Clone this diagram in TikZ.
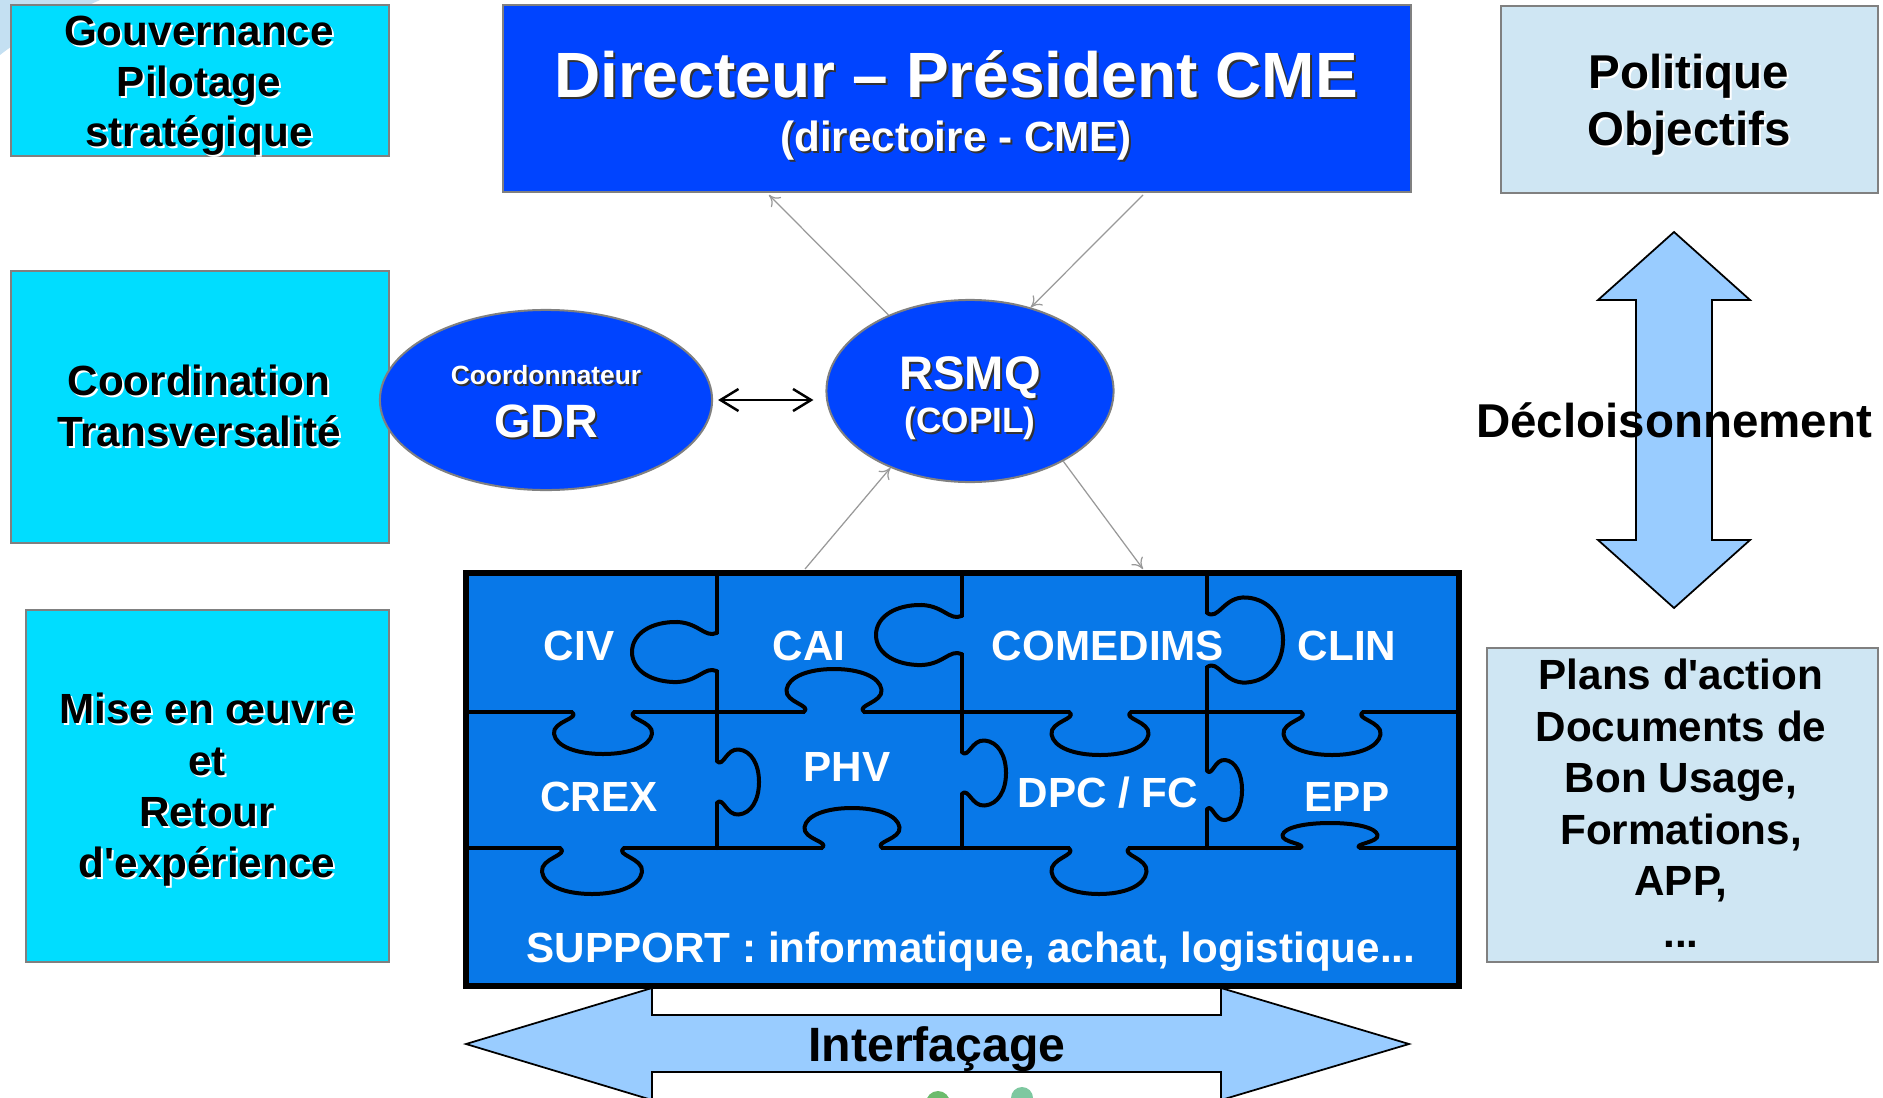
\documentclass[tikz,border=0pt]{standalone}
\usepackage{fontspec}
\setmainfont{Liberation Sans}
\usetikzlibrary{shapes.geometric,arrows.meta}

\definecolor{cyanbox}{RGB}{0,221,255}
\definecolor{royal}{RGB}{0,68,255}
\definecolor{puzblue}{RGB}{8,120,232}
\definecolor{paleblue}{RGB}{207,230,243}
\definecolor{arrowblue}{RGB}{153,204,255}
\definecolor{boxgray}{RGB}{128,128,128}
\definecolor{decoblue}{RGB}{196,224,242}
\definecolor{leafA}{RGB}{108,187,108}
\definecolor{leafB}{RGB}{126,200,160}

\newcommand\pfont[2]{\fontsize{#1}{#2}\selectfont\bfseries}
\newcommand\apos{\textquotesingle}

% text with a drop shadow: style, shadow colour, name, position, text
\newcommand\shadowlabel[5]{%
  \node[#1,text=#2] at ([shift={(2,2)}]#4) {#5};
  \node[#1] (#3) at (#4) {#5};}

% jigsaw tab on an edge: x, y, rotation, width along the edge, depth
\newcommand\knob[5]{%
  \begin{scope}[shift={(#1,#2)},rotate=#3,xscale=#4,yscale=#5]
    \fill[puzblue] (-0.31,{-3.2/#5}) rectangle (0.31,{3.2/#5});
    \draw[puzline] (-0.32,0) .. controls (-0.22,0.15) and (-0.52,0.22) .. (-0.5,0.52)
      .. controls (-0.48,0.82) and (-0.27,1) .. (0,1)
      .. controls (0.27,1) and (0.48,0.82) .. (0.5,0.52)
      .. controls (0.52,0.22) and (0.22,0.15) .. (0.32,0);
  \end{scope}}

\tikzset{
  sidebox/.style={draw=boxgray,line width=0.02cm,fill=cyanbox,anchor=north west,inner sep=0},
  palebox/.style={draw=boxgray,line width=0.02cm,fill=paleblue,anchor=north west,inner sep=0},
  bluebox/.style={draw=boxgray,line width=0.02cm,fill=royal,anchor=north west,inner sep=0},
  blueoval/.style={ellipse,draw=boxgray,line width=0.02cm,fill=royal,inner sep=0},
  sidetext/.style={align=center,inner sep=0,font=\pfont{12}{14.4}},
  puztext/.style={anchor=base,inner sep=0,text=white,font=\pfont{12}{14.4}},
  puzline/.style={draw=black,line width=0.04cm,line cap=round,line join=round},
  fatarrow/.style={draw=black,line width=0.5pt,fill=arrowblue},
  link/.style={draw=black!40,line width=0.35pt,-{To[length=3pt,width=4pt]}}
}

\begin{document}
\begin{tikzpicture}[x=0.01cm,y=-0.01cm]
\useasboundingbox (0,0) rectangle (1883,1097);
\fill[white] (0,0) rectangle (1883,1097);

% corner ornament and leaves of the background logo
\fill[decoblue] (0,0) -- (100,0) .. controls (60,18) and (25,35) .. (0,55) -- cycle;
\fill[leafA] (938,1103) circle[radius=12];
\fill[leafB] (1022,1098) circle[radius=11];

% left column
\node[sidebox,minimum width=3.78cm,minimum height=1.51cm] (gouv) at (10,4) {};
\shadowlabel{sidetext}{white}{gouvT}{199,86}{Gouvernance\\Pilotage\\stratégique}
\node[sidebox,minimum width=3.78cm,minimum height=2.72cm] (coord) at (10,270) {};
\shadowlabel{sidetext}{white}{coordT}{199,406}{Coordination\\Transversalité}
\node[sidebox,minimum width=3.63cm,minimum height=3.52cm] (mise) at (25,609) {};
\shadowlabel{sidetext,font=\pfont{12}{14.6}}{white}{miseT}{207,790}{Mise en œuvre\\et\\Retour\\d\apos expérience}

% top box
\node[bluebox,minimum width=9.07cm,minimum height=1.87cm] (dir) at (502,4) {};
\shadowlabel{anchor=base,inner sep=0,text=white,font=\pfont{18.2}{21}}{black!80}{dirT}{956,98}{Directeur – Président CME}
\shadowlabel{anchor=base,inner sep=0,text=white,font=\pfont{12}{14}}{black!80}{dirS}{956,151}{(directoire - CME)}

% right column
\node[palebox,minimum width=3.77cm,minimum height=1.87cm] (poli) at (1500,5) {};
\shadowlabel{sidetext,font=\pfont{13.5}{16.2}}{white}{poliT}{1689,105}{Politique\\Objectifs}
\node[palebox,minimum width=3.91cm,minimum height=3.14cm] (plans) at (1486,647) {};
\node[sidetext,font=\pfont{12}{14.65}] (plansT) at (1681,803) {Plans d\apos action\\Documents de\\Bon Usage,\\Formations,\\APP,\\...};

% vertical double arrow
\draw[fatarrow] (1674,232) -- (1750,300) -- (1712,300) -- (1712,540) -- (1750,540)
  -- (1674,608) -- (1598,540) -- (1636,540) -- (1636,300) -- (1598,300) -- cycle;
\node[anchor=base,inner sep=0,font=\pfont{13.5}{16}] (decl) at (1674,437) {Décloisonnement};

% horizontal double arrow
\draw[fatarrow] (466,1044) -- (652,988) -- (652,1015) -- (1221,1015) -- (1221,988)
  -- (1409,1044) -- (1221,1100) -- (1221,1072) -- (652,1072) -- (652,1100) -- cycle;
\node[anchor=base,inner sep=0,font=\pfont{13.7}{16}] (interf) at (937,1061) {Interfaçage};

% ovals
\node[blueoval,minimum width=3.32cm,minimum height=1.8cm] (gdr) at (546,400) {};
\shadowlabel{anchor=base,inner sep=0,text=white,font=\pfont{7.5}{9}}{black!80}{gdrA}{546,384}{Coordonnateur}
\shadowlabel{anchor=base,inner sep=0,text=white,font=\pfont{13.3}{16}}{black!80}{gdrB}{546,437}{GDR}
\node[blueoval,minimum width=2.87cm,minimum height=1.82cm] (rsmq) at (970,391) {};
\shadowlabel{anchor=base,inner sep=0,text=white,font=\pfont{13.4}{16}}{black!80}{rsmqA}{970,389}{RSMQ}
\shadowlabel{anchor=base,inner sep=0,text=white,font=\pfont{10}{12}}{black!80}{rsmqB}{970,432}{(COPIL)}

\draw[{Straight Barb[length=1.8mm,width=2.2mm]}-{Straight Barb[length=1.8mm,width=2.2mm]},line width=0.7pt]
  ([xshift=0.05cm]gdr.east) -- ([xshift=-0.12cm]gdr.east -| rsmq.west);

% puzzle of committees
\fill[puzblue] (466,573) rectangle (1459,986);
\draw[puzline] (466,712) -- (1459,712);
\draw[puzline] (466,848) -- (1459,848);
\draw[puzline] (717,573) -- (717,848);
\draw[puzline] (962,573) -- (962,848);
\draw[puzline] (1207,573) -- (1207,848);
\knob{717}{652}{-90}{60}{85}
\knob{962}{635}{-90}{60}{86}
\knob{1207}{640}{90}{85}{76}
\knob{603}{712}{0}{98}{42}
\knob{834}{712}{180}{95}{43}
\knob{1100}{712}{0}{97}{43}
\knob{1332}{712}{0}{97}{43}
\knob{717}{782}{90}{65}{42}
\knob{962}{773}{90}{65}{44}
\knob{1207}{790}{90}{60}{35}
\knob{592}{848}{0}{100}{46}
\knob{852}{848}{180}{95}{40}
\knob{1099}{848}{0}{95}{46}
\knob{1330}{848}{180}{95}{25}
\draw[draw=black,line width=0.06cm] (466,573) rectangle (1459,986);

\node[puztext] (civ) at (579,660) {CIV};
\node[puztext] (cai) at (809,660) {CAI};
\node[puztext] (comedims) at (1108,660) {COMEDIMS};
\node[puztext] (clin) at (1347,660) {CLIN};
\node[puztext] (crex) at (599,811) {CREX};
\node[puztext] (phv) at (847,781) {PHV};
\node[puztext] (dpc) at (1108,807) {DPC / FC};
\node[puztext] (epp) at (1347,811) {EPP};
\node[puztext] (support) at (971,962) {SUPPORT : informatique, achat, logistique...};

% thin links around the RSMQ
\coordinate (dirA) at (769,195);
\coordinate (dirB) at (1143,195);
\coordinate (puzA) at (805,569);
\coordinate (puzB) at (1143,569);
\draw[link] (rsmq.137) -- (dirA);
\draw[link] (dirB) -- (rsmq.54);
\draw[link] (puzA) -- (rsmq.224);
\draw[link] (rsmq.323) -- (puzB);
\end{tikzpicture}
\end{document}
